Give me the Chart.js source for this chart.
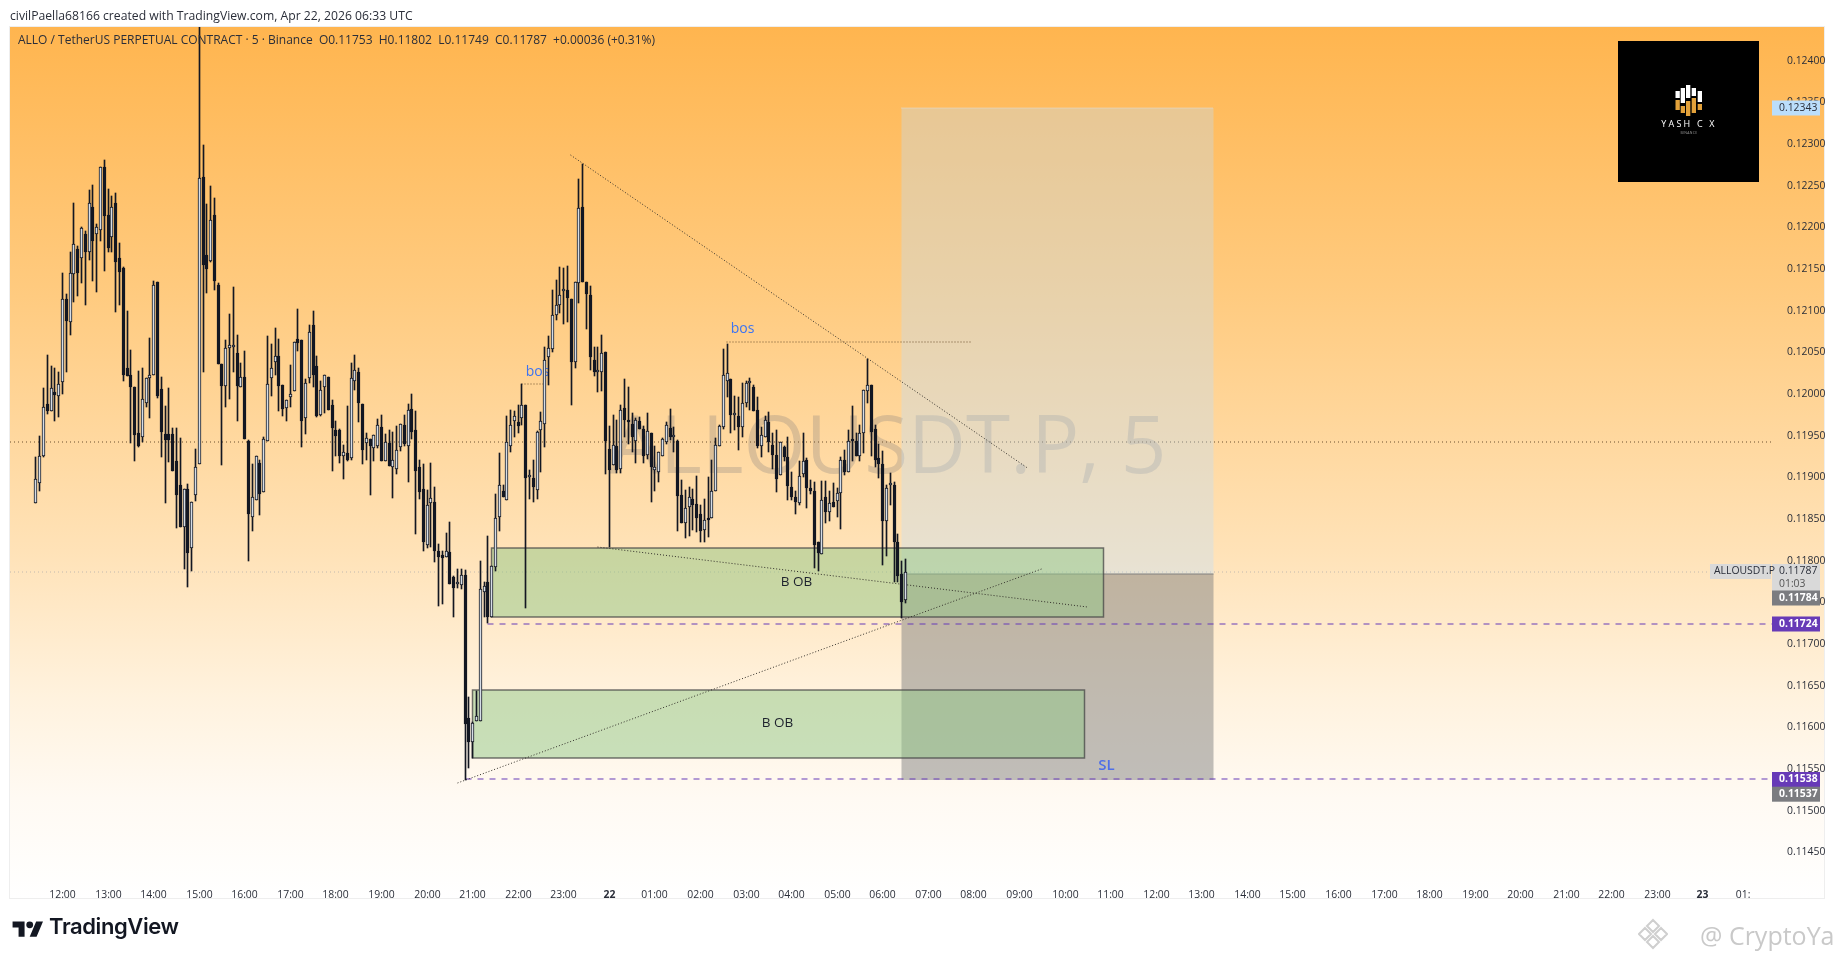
<!DOCTYPE html>
<html>
<head>
<meta charset="utf-8">
<title>ALLOUSDT.P</title>
<script src="https://cdn.jsdelivr.net/npm/chart.js@4"></script>
<style>
  html, body { margin: 0; background: #fff; }
  #wrap { position: relative; width: 1835px; height: 959px; overflow: hidden; }
  canvas { position: absolute; left: 0; top: 0; }
  .note { position: absolute; white-space: nowrap; }
  #author { left: 10px; top: 7px; font: 12.2px "Open Sans", sans-serif; color: #2a2e39; }
  #brand { left: 49px; top: 913px; font: 600 22px Inter, sans-serif; color: #131722; letter-spacing: -0.4px; }
  #stamp { left: 1700px; top: 918px; font: 25px "Open Sans", sans-serif; color: #c9c9c9; }
</style>
</head>
<body>
<div id="wrap">
  <canvas id="myChart" width="1835" height="959"></canvas>
  <div class="note" id="author">civilPaella68166 created with TradingView.com, Apr 22, 2026 06:33 UTC</div>
  <svg class="note" style="left:11.5px;top:917.5px" width="32" height="24" viewBox="0 0 36 28"><path fill="#131722" d="M14 22H7V11H0V4h14v18zM28 22h-8l7.5-18h8L28 22z"/><circle fill="#131722" cx="20" cy="8" r="4"/></svg>
  <div class="note" id="brand">TradingView</div>
  <svg class="note" style="left:1638px;top:918px" width="30" height="32" viewBox="0 0 30 32"><g fill="none" stroke="#cfcfcf" stroke-width="2"><path d="M15 2l6 6-6 6-6-6zM15 18l6 6-6 6-6-6zM7 10l6 6-6 6-6-6zM23 10l6 6-6 6-6-6z"/></g></svg>
  <div class="note" id="stamp">@ CryptoYash</div>
</div>
<script>
// 5 minute candles
const opens = [0.11869,0.11893,0.11926,0.11988,0.11980,0.12003,0.11998,0.12014,0.12114,0.12086,0.12144,0.12174,0.12163,0.12192,0.12171,0.12225,0.12192,0.12197,0.12272,0.12215,0.12188,0.12229,0.12163,0.12151,0.12031,0.12023,0.12008,0.11953,0.11948,0.11989,0.12019,0.12023,0.12134,0.12006,0.11952,0.11952,0.11952,0.11919,0.11891,0.11840,0.11886,0.11815,0.11879,0.11916,0.12260,0.12167,0.12160,0.12215,0.12131,0.12036,0.12010,0.12055,0.12056,0.12049,0.12008,0.12020,0.11944,0.11852,0.11873,0.11917,0.11882,0.11944,0.12019,0.12039,0.12046,0.12011,0.11983,0.11996,0.12004,0.12066,0.12065,0.11971,0.12019,0.12083,0.12034,0.11975,0.12009,0.12020,0.11987,0.11957,0.11957,0.11926,0.11929,0.11923,0.12015,0.12026,0.11988,0.11941,0.11946,0.11935,0.11938,0.11960,0.11920,0.11941,0.11912,0.11910,0.11936,0.11963,0.11937,0.11982,0.11957,0.11913,0.11886,0.11819,0.11869,0.11871,0.11811,0.11807,0.11805,0.11810,0.11780,0.11772,0.11771,0.11783,0.11611,0.11583,0.11608,0.11607,0.11763,0.11775,0.11733,0.11792,0.11853,0.11884,0.11873,0.11937,0.11968,0.11966,0.11971,0.11987,0.11900,0.11899,0.11885,0.11957,0.11964,0.12044,0.12054,0.12095,0.12107,0.12123,0.12125,0.12114,0.12038,0.12133,0.12224,0.12135,0.12119,0.12041,0.12026,0.12027,0.12050,0.11934,0.11915,0.11938,0.11910,0.11983,0.11969,0.11964,0.11944,0.11968,0.11958,0.11927,0.11953,0.11909,0.11907,0.11926,0.11943,0.11959,0.11949,0.11944,0.11879,0.11845,0.11864,0.11874,0.11868,0.11856,0.11837,0.11850,0.11851,0.11884,0.11938,0.11961,0.12016,0.12018,0.11975,0.11974,0.11961,0.11989,0.12013,0.12008,0.11981,0.11938,0.11949,0.11966,0.11939,0.11927,0.11903,0.11936,0.11924,0.11888,0.11876,0.11869,0.11904,0.11921,0.11887,0.11883,0.11822,0.11808,0.11876,0.11859,0.11871,0.11872,0.11881,0.11921,0.11906,0.11945,0.11944,0.11926,0.11953,0.12004,0.12011,0.11958,0.11923,0.11916,0.11848,0.11891,0.11891,0.11823,0.11784,0.11753];
const highs = [0.11925,0.11950,0.12007,0.12047,0.12034,0.12031,0.12027,0.12145,0.12120,0.12171,0.12229,0.12177,0.12201,0.12195,0.12245,0.12251,0.12204,0.12272,0.12281,0.12246,0.12237,0.12241,0.12181,0.12153,0.12100,0.12053,0.12008,0.12028,0.12031,0.12019,0.12067,0.12136,0.12134,0.12020,0.11986,0.12007,0.11959,0.11959,0.11947,0.11886,0.11892,0.11871,0.11934,0.12460,0.12299,0.12228,0.12250,0.12235,0.12133,0.12036,0.12065,0.12096,0.12128,0.12071,0.12037,0.12052,0.11945,0.11916,0.11926,0.11921,0.11948,0.12070,0.12060,0.12079,0.12066,0.12011,0.11993,0.12035,0.12062,0.12102,0.12065,0.12018,0.12083,0.12100,0.12046,0.12016,0.12023,0.12020,0.11993,0.11968,0.11958,0.11939,0.11986,0.12037,0.12047,0.12031,0.11988,0.11953,0.11946,0.11951,0.11970,0.11975,0.11952,0.11957,0.11954,0.11962,0.11964,0.11975,0.11988,0.12000,0.11980,0.11921,0.11916,0.11885,0.11917,0.11888,0.11820,0.11811,0.11833,0.11846,0.11782,0.11790,0.11790,0.11789,0.11637,0.11606,0.11644,0.11800,0.11774,0.11830,0.11794,0.11880,0.11929,0.11891,0.11974,0.11981,0.11980,0.11987,0.12012,0.11987,0.11909,0.11921,0.11955,0.11978,0.12057,0.12069,0.12125,0.12137,0.12153,0.12151,0.12154,0.12114,0.12134,0.12258,0.12276,0.12135,0.12130,0.12056,0.12056,0.12071,0.12050,0.11962,0.11975,0.11969,0.11987,0.12018,0.12009,0.11977,0.11971,0.11972,0.11962,0.11977,0.11953,0.11937,0.11931,0.11947,0.11967,0.11982,0.11961,0.11945,0.11897,0.11885,0.11889,0.11886,0.11902,0.11867,0.11874,0.11900,0.11921,0.11947,0.11963,0.12054,0.12060,0.12018,0.11998,0.11997,0.12013,0.12015,0.12019,0.12011,0.11997,0.11961,0.11974,0.11979,0.11953,0.11957,0.11943,0.11937,0.11949,0.11907,0.11883,0.11919,0.11953,0.11923,0.11897,0.11895,0.11823,0.11896,0.11896,0.11883,0.11893,0.11887,0.11925,0.11933,0.11957,0.11986,0.11953,0.11963,0.12005,0.12042,0.12011,0.11963,0.11940,0.11932,0.11891,0.11905,0.11894,0.11832,0.11800,0.11802];
const lows = [0.11869,0.11884,0.11925,0.11976,0.11980,0.11968,0.11972,0.12000,0.12026,0.12071,0.12111,0.12118,0.12133,0.12107,0.12161,0.12136,0.12122,0.12184,0.12148,0.12170,0.12171,0.12099,0.12107,0.12015,0.12022,0.11941,0.11919,0.11936,0.11943,0.11985,0.11971,0.12023,0.11995,0.11925,0.11869,0.11918,0.11908,0.11839,0.11840,0.11790,0.11769,0.11788,0.11872,0.11916,0.12027,0.12121,0.12158,0.12125,0.12036,0.11915,0.11985,0.11994,0.12027,0.11968,0.12008,0.11946,0.11800,0.11836,0.11873,0.11855,0.11882,0.11944,0.11998,0.12023,0.11980,0.11973,0.11968,0.11985,0.12004,0.12051,0.11936,0.11952,0.12013,0.12008,0.11972,0.11973,0.11977,0.11981,0.11908,0.11926,0.11917,0.11898,0.11919,0.11921,0.12005,0.11967,0.11916,0.11921,0.11879,0.11920,0.11935,0.11920,0.11920,0.11914,0.11875,0.11904,0.11932,0.11937,0.11894,0.11946,0.11832,0.11874,0.11812,0.11815,0.11817,0.11799,0.11746,0.11748,0.11805,0.11772,0.11732,0.11767,0.11766,0.11537,0.11551,0.11563,0.11608,0.11607,0.11733,0.11725,0.11733,0.11788,0.11836,0.11877,0.11873,0.11930,0.11949,0.11953,0.11963,0.11743,0.11874,0.11870,0.11874,0.11907,0.11936,0.12011,0.12050,0.12089,0.12097,0.12084,0.12086,0.11987,0.12031,0.12109,0.12135,0.12078,0.12029,0.12022,0.12002,0.12004,0.11904,0.11817,0.11915,0.11905,0.11905,0.11949,0.11940,0.11930,0.11917,0.11958,0.11917,0.11922,0.11870,0.11884,0.11894,0.11926,0.11940,0.11945,0.11930,0.11836,0.11845,0.11827,0.11830,0.11837,0.11835,0.11822,0.11822,0.11828,0.11851,0.11884,0.11938,0.11958,0.11996,0.11953,0.11957,0.11933,0.11949,0.11985,0.11981,0.11980,0.11935,0.11924,0.11949,0.11931,0.11910,0.11882,0.11903,0.11920,0.11873,0.11873,0.11856,0.11867,0.11900,0.11863,0.11880,0.11791,0.11788,0.11808,0.11845,0.11847,0.11864,0.11853,0.11838,0.11903,0.11906,0.11919,0.11926,0.11920,0.11929,0.11989,0.11926,0.11913,0.11899,0.11795,0.11806,0.11867,0.11775,0.11774,0.11731,0.11749];
const closes = [0.11898,0.11926,0.11985,0.11980,0.12007,0.11999,0.12012,0.12114,0.12088,0.12145,0.12180,0.12145,0.12199,0.12170,0.12229,0.12184,0.12200,0.12272,0.12213,0.12175,0.12224,0.12158,0.12146,0.12023,0.12022,0.12008,0.11951,0.11937,0.11994,0.12019,0.12023,0.12131,0.11998,0.11954,0.11945,0.11945,0.11908,0.11879,0.11840,0.11886,0.11809,0.11871,0.11912,0.12259,0.12155,0.12150,0.12209,0.12136,0.12036,0.12010,0.12055,0.12059,0.12056,0.12010,0.12020,0.11946,0.11856,0.11877,0.11926,0.11880,0.11946,0.12012,0.12031,0.12046,0.12010,0.11982,0.11993,0.12000,0.12062,0.12061,0.11968,0.12013,0.12075,0.12023,0.11974,0.12005,0.12023,0.11981,0.11959,0.11950,0.11926,0.11930,0.11921,0.12019,0.12029,0.11989,0.11933,0.11947,0.11938,0.11951,0.11963,0.11920,0.11943,0.11914,0.11921,0.11933,0.11964,0.11940,0.11981,0.11954,0.11908,0.11882,0.11823,0.11867,0.11875,0.11811,0.11805,0.11803,0.11811,0.11772,0.11767,0.11772,0.11783,0.11604,0.11583,0.11605,0.11614,0.11766,0.11770,0.11733,0.11794,0.11851,0.11891,0.11877,0.11942,0.11963,0.11974,0.11962,0.11987,0.11899,0.11900,0.11889,0.11954,0.11968,0.12041,0.12055,0.12095,0.12107,0.12119,0.12123,0.12115,0.12038,0.12134,0.12223,0.12135,0.12120,0.12044,0.12026,0.12026,0.12049,0.11944,0.11909,0.11939,0.11909,0.11981,0.11969,0.11966,0.11948,0.11969,0.11958,0.11926,0.11955,0.11912,0.11912,0.11930,0.11946,0.11963,0.11948,0.11949,0.11878,0.11845,0.11863,0.11877,0.11867,0.11851,0.11836,0.11849,0.11849,0.11884,0.11939,0.11962,0.12023,0.12025,0.11975,0.11975,0.11961,0.11989,0.12013,0.12013,0.11980,0.11938,0.11951,0.11969,0.11943,0.11927,0.11898,0.11942,0.11925,0.11890,0.11876,0.11871,0.11902,0.11919,0.11887,0.11883,0.11819,0.11809,0.11873,0.11859,0.11869,0.11864,0.11881,0.11921,0.11906,0.11944,0.11944,0.11926,0.11953,0.12005,0.12011,0.11954,0.11921,0.11916,0.11848,0.11887,0.11891,0.11822,0.11782,0.11751,0.11787];

// axis labels
const priceTicks = [0.1145,0.115,0.1155,0.116,0.1165,0.117,0.1175,0.118,0.1185,0.119,0.1195,0.12,0.1205,0.121,0.1215,0.122,0.1225,0.123,0.1235,0.124];
const timeLabels = ['12:00','13:00','14:00','15:00','16:00','17:00','18:00','19:00','20:00','21:00','22:00','23:00','22','01:00','02:00','03:00','04:00','05:00','06:00','07:00','08:00','09:00','10:00','11:00','12:00','13:00','14:00','15:00','16:00','17:00','18:00','19:00','20:00','21:00','22:00','23:00','23','01:'];
const firstHourCandle = 7;
const candlesPerHour = 12;

// drawings on the chart, x in candle numbers
const positionSpan = [227.9, 310.2];
const targetPrice = 0.12343;
const entryPrice = 0.11784;
const stopPrice = 0.11537;
const boxSpans = [[120, 281.1], [114.9, 276]];
const boxPrices = [[0.11815, 0.11732], [0.116445, 0.11563]];
const boxNames = ['B OB', 'B OB'];
const boxNameX = [200.4, 195.3];
const boxNameY = [0.11774, 0.11605];
const trendX = [[140.9, 261], [147.9, 276.8], [110.9, 264.8]];
const trendY = [[0.12287, 0.11911], [0.11816, 0.11744], [0.11533, 0.1179]];
const bosSpans = [[128, 134], [181.9, 246]];
const bosPrices = [0.12012, 0.12063];
const bosNameX = [132, 186];
const bosNameY = [0.12026, 0.12078];
const slNameX = 282;
const slNameY = 0.11554;
const sessionLine = 0.11943;
const lastPrice = 0.11787;
const limitLines = [0.11724, 0.11538];
const limitStarts = [119, 113];

const candles = opens.map((o, i) => i);
const isUp = i => closes[i] >= opens[i];

function snapScale(scale, offset) {
  if (scale.snapped) return;
  const raw = scale.getPixelForValue;
  scale.getPixelForValue = function (v, i) { return Math.round(raw.call(scale, v, i)) + offset; };
  scale.snapped = true;
}

function label(ctx, text, x, y, color, font, align) {
  ctx.font = font;
  ctx.fillStyle = color;
  ctx.textAlign = align || 'center';
  ctx.textBaseline = 'middle';
  ctx.fillText(text, x, y);
}

function tag(ctx, text, y, bg, color, bold) {
  ctx.fillStyle = bg;
  ctx.fillRect(1772, y - 7.5, 48, 15);
  label(ctx, text, 1779, y, color, (bold ? 'bold ' : '') + '10.4px "Open Sans"', 'left');
}

function dottedLine(ctx, x0, y0, x1, y1, color, dash) {
  ctx.save();
  ctx.strokeStyle = color;
  ctx.lineWidth = 1;
  ctx.setLineDash(dash);
  ctx.beginPath();
  ctx.moveTo(x0, y0);
  ctx.lineTo(x1, y1);
  ctx.stroke();
  ctx.restore();
}

// pane background, behind everything
const panePlugin = {
  id: 'pane',
  beforeDraw(chart) {
    const ctx = chart.ctx;
    const g = ctx.createLinearGradient(0, 27, 0, 898);
    g.addColorStop(0, '#ffb54f');
    g.addColorStop(0.31, '#ffcb80');
    g.addColorStop(0.6, '#ffe2b7');
    g.addColorStop(0.77, '#fff2de');
    g.addColorStop(0.885, '#fffaf3');
    g.addColorStop(1, '#ffffff');
    ctx.fillStyle = g;
    ctx.fillRect(10, 27, 1814, 871);
    ctx.strokeStyle = '#eeeeee';
    ctx.strokeRect(9.5, 26.5, 1815, 872);
  }
};

// watermark and the user's drawings
const drawingsPlugin = {
  id: 'drawings',
  beforeDatasetsDraw(chart) {
    const ctx = chart.ctx;
    const x = chart.scales.x;
    const y = chart.scales.y;
    const px = v => x.getPixelForValue(v);
    const py = v => y.getPixelForValue(v);
    const left = chart.chartArea.left;
    const right = chart.chartArea.right;

    label(ctx, 'ALLOUSDT.P, 5', 888, 450, 'rgba(110,110,120,0.25)', '80px "Open Sans"');

    dottedLine(ctx, left, py(sessionLine), right, py(sessionLine), '#6b4f2e', [1, 3]);
    dottedLine(ctx, left, py(lastPrice), 1710, py(lastPrice), 'rgba(170,170,170,0.7)', [1, 3]);

    // long position
    ctx.fillStyle = 'rgba(189,222,255,0.34)';
    ctx.fillRect(px(positionSpan[0]), py(targetPrice), px(positionSpan[1]) - px(positionSpan[0]), py(entryPrice) - py(targetPrice));
    ctx.fillStyle = 'rgba(130,130,130,0.5)';
    ctx.fillRect(px(positionSpan[0]), py(entryPrice), px(positionSpan[1]) - px(positionSpan[0]), py(stopPrice) - py(entryPrice));
    dottedLine(ctx, px(positionSpan[0]), py(targetPrice), px(positionSpan[1]), py(targetPrice), '#dddddd', [1, 1]);
    dottedLine(ctx, px(positionSpan[0]), py(entryPrice), px(positionSpan[1]), py(entryPrice), '#808080', []);

    // order blocks
    boxSpans.forEach((span, i) => {
      const bx = px(span[0]);
      const by = py(boxPrices[i][0]);
      const bw = px(span[1]) - bx;
      const bh = py(boxPrices[i][1]) - by;
      ctx.fillStyle = 'rgba(145,200,135,0.5)';
      ctx.fillRect(bx, by, bw, bh);
      ctx.strokeStyle = 'rgba(70,70,70,0.75)';
      ctx.lineWidth = 1.5;
      ctx.strokeRect(bx, by, bw, bh);
      label(ctx, boxNames[i], px(boxNameX[i]), py(boxNameY[i]), '#1e222d', '13.5px "Open Sans"');
    });

    limitLines.forEach((v, i) => {
      dottedLine(ctx, px(limitStarts[i]), py(v), right, py(v), '#673ab7', [6, 6]);
    });

    trendX.forEach((tx, i) => {
      dottedLine(ctx, px(tx[0]), py(trendY[i][0]), px(tx[1]), py(trendY[i][1]), '#33302a', [1, 2]);
    });

    bosSpans.forEach((span, i) => {
      dottedLine(ctx, px(span[0]), py(bosPrices[i]), px(span[1]), py(bosPrices[i]), '#6b4f2e', [1, 2]);
      label(ctx, 'bos', px(bosNameX[i]), py(bosNameY[i]), '#3d74f2', '14px "Open Sans"');
    });

    label(ctx, 'SL', px(slNameX), py(slNameY), '#4f6fe8', '600 15px "Open Sans"');
  },
  afterDraw(chart) {
    const ctx = chart.ctx;
    const py = v => chart.scales.y.getPixelForValue(v);

    label(ctx, 'ALLO / TetherUS PERPETUAL CONTRACT · 5 · Binance  O0.11753  H0.11802  L0.11749  C0.11787  +0.00036 (+0.31%)', 18, 41, '#2a2e39', '12px "Open Sans"', 'left');

    // price tags on the axis
    tag(ctx, targetPrice.toFixed(5), py(targetPrice), '#bbdefb', '#2a2e39');
    ctx.fillStyle = '#d9d9d9';
    ctx.fillRect(1772, 564, 48, 28);
    ctx.fillRect(1710, 564, 61, 15);
    label(ctx, lastPrice.toFixed(5), 1779, 571.5, '#2a2e39', '10.4px "Open Sans"', 'left');
    label(ctx, '01:03', 1779, 583.7, '#555555', '10.4px "Open Sans"', 'left');
    label(ctx, 'ALLOUSDT.P', 1714, 571.5, '#2a2e39', '10.4px "Open Sans"', 'left');
    tag(ctx, entryPrice.toFixed(5), 598, '#7b7c80', '#ffffff', true);
    tag(ctx, limitLines[0].toFixed(5), py(limitLines[0]), '#673ab7', '#ffffff', true);
    tag(ctx, limitLines[1].toFixed(5), 779.5, '#673ab7', '#ffffff', true);
    tag(ctx, stopPrice.toFixed(5), 794.2, '#7b7c80', '#ffffff', true);

    // channel logo
    ctx.fillStyle = '#000000';
    ctx.fillRect(1618, 41, 141, 141);
    const logoX = [1675.5, 1680.7, 1686, 1691.7, 1697.7];
    const logoWhite = [[91, 98], [88, 103], [85, 98], [88, 96], [91, 102]];
    const logoGold = [[100, 110], [106, 113], [101, 116], [98, 113], [104, 110]];
    logoX.forEach((lx, i) => {
      ctx.fillStyle = '#ffffff';
      ctx.fillRect(lx, logoWhite[i][0], 4.3, logoWhite[i][1] - logoWhite[i][0]);
      ctx.fillStyle = '#e2a13a';
      ctx.fillRect(lx, logoGold[i][0], 4.3, logoGold[i][1] - logoGold[i][0]);
    });
    ctx.letterSpacing = '2.2px';
    label(ctx, 'YASH C X', 1689, 124, '#ffffff', '9px "Open Sans"');
    ctx.letterSpacing = '0.3px';
    label(ctx, 'BINANCE', 1689, 132.7, '#999999', '3.5px "Open Sans"');
    ctx.letterSpacing = '0px';
  }
};

new Chart(document.getElementById('myChart'), {
  type: 'bar',
  data: {
    datasets: [
      {
        label: 'body',
        order: 1,
        data: candles.map(i => ({ x: i, y: [opens[i], closes[i]] })),
        backgroundColor: candles.map(i => isUp(i) ? '#d6dde6' : '#131722'),
        borderColor: '#131722',
        borderWidth: 1,
        borderSkipped: false,
        barThickness: 3,
        minBarLength: 2,
        grouped: false
      },
      {
        label: 'wick',
        order: 2,
        data: candles.map(i => ({ x: i, y: [lows[i], highs[i]] })),
        backgroundColor: '#131722',
        borderWidth: 0,
        barThickness: 1,
        grouped: false
      }
    ]
  },
  options: {
    responsive: false,
    animation: false,
    layout: { padding: { left: 10, top: 27, right: 0, bottom: 0 } },
    plugins: { legend: { display: false }, tooltip: { enabled: false } },
    scales: {
      x: {
        type: 'linear',
        min: -0.59,
        max: 451.2,
        grid: { display: false },
        border: { display: false },
        afterBuildTicks(scale) {
          scale.ticks = timeLabels.map((t, i) => ({ value: firstHourCandle + i * candlesPerHour }));
        },
        afterFit(scale) { scale.height = 87; },
        afterUpdate(scale) { snapScale(scale, 0.5); },
        ticks: {
          autoSkip: false,
          maxRotation: 0,
          padding: 9,
          color: '#2a2e39',
          font: c => ({ family: '"Open Sans"', size: 10.4, weight: (timeLabels[c.index] === '22' || timeLabels[c.index] === '23') ? 'bold' : 'normal' }),
          callback: (v, i) => timeLabels[i] === '01:' ? '01:\u00a0\u00a0\u00a0\u00a0' : timeLabels[i]
        }
      },
      y: {
        position: 'right',
        min: 0.114264,
        max: 0.124404,
        grid: { display: false },
        border: { display: false },
        afterBuildTicks(scale) {
          scale.ticks = priceTicks.map(v => ({ value: v }));
        },
        afterFit(scale) { scale.width = 63; },
        afterUpdate(scale) { snapScale(scale, 0); },
        ticks: {
          padding: 7,
          color: '#2a2e39',
          font: { family: '"Open Sans"', size: 10.4 },
          callback: v => v.toFixed(5)
        }
      }
    }
  },
  plugins: [panePlugin, drawingsPlugin]
});
</script>
</body>
</html>
